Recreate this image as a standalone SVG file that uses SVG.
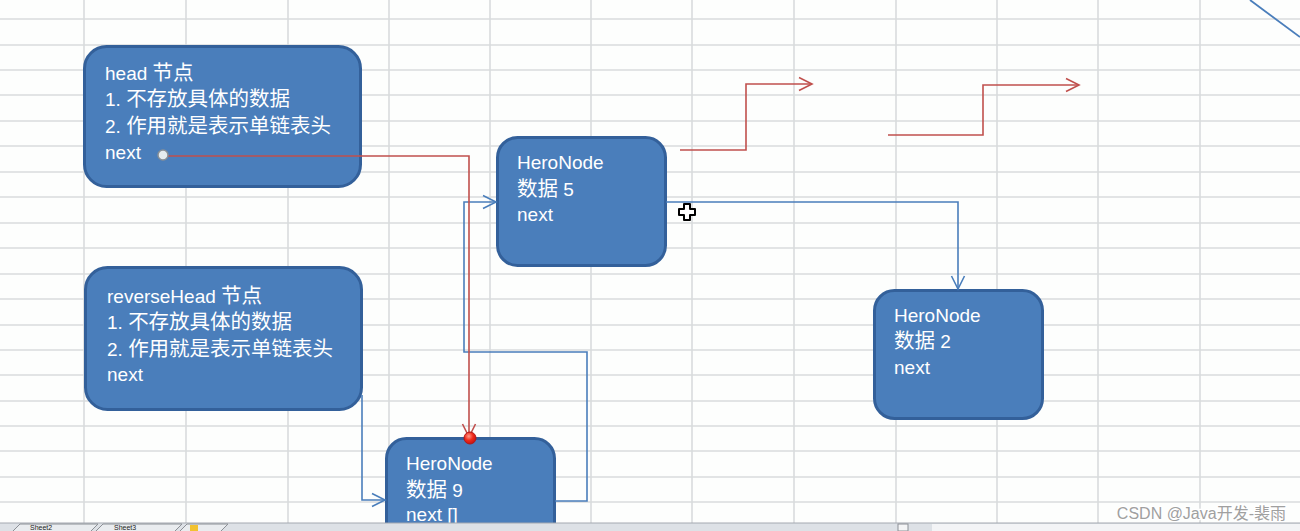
<svg xmlns="http://www.w3.org/2000/svg" width="1300" height="531" viewBox="0 0 1300 531">
<style>
.grid line{stroke:#D9DBDD;stroke-width:1.6}
.box{fill:#4A7EBB;stroke:#33609A;stroke-width:3}
.t{font-family:"Liberation Sans","Noto Sans CJK SC",sans-serif;font-size:19px;fill:#FFFFFF}
.c{font-size:20.5px}
.blue{fill:none;stroke:#4A7EBB;stroke-width:1.6}
.red{fill:none;stroke:#C0504D;stroke-width:1.6}
.tab{fill:#E9ECEF;stroke:#8C9096;stroke-width:1}
.tabt{font-family:"Liberation Sans",sans-serif;font-size:7px;fill:#222}
</style>
<defs>
<marker id="ab" markerUnits="userSpaceOnUse" markerWidth="16" markerHeight="16" refX="14" refY="8" orient="auto">
<path d="M1,1.5 L14,8 L1,14.5" fill="none" stroke="#4A7EBB" stroke-width="1.6"/>
</marker>
<marker id="ar" markerUnits="userSpaceOnUse" markerWidth="16" markerHeight="16" refX="14" refY="8" orient="auto">
<path d="M1,1.5 L14,8 L1,14.5" fill="none" stroke="#C0504D" stroke-width="1.6"/>
</marker>
<radialGradient id="rd" cx="0.4" cy="0.35" r="0.7">
<stop offset="0" stop-color="#FF9A8A"/>
<stop offset="0.5" stop-color="#F02A1A"/>
<stop offset="1" stop-color="#C01010"/>
</radialGradient>
</defs>
<rect width="1300" height="531" fill="#FDFEFD"/>
<g class="grid">
<line x1="84" y1="0" x2="84" y2="531"/>
<line x1="186" y1="0" x2="186" y2="531"/>
<line x1="288" y1="0" x2="288" y2="531"/>
<line x1="389" y1="0" x2="389" y2="531"/>
<line x1="490" y1="0" x2="490" y2="531"/>
<line x1="591" y1="0" x2="591" y2="531"/>
<line x1="692" y1="0" x2="692" y2="531"/>
<line x1="794" y1="0" x2="794" y2="531"/>
<line x1="896" y1="0" x2="896" y2="531"/>
<line x1="997" y1="0" x2="997" y2="531"/>
<line x1="1098" y1="0" x2="1098" y2="531"/>
<line x1="1200" y1="0" x2="1200" y2="531"/>
<line x1="0" y1="19" x2="1300" y2="19"/>
<line x1="0" y1="45" x2="1300" y2="45"/>
<line x1="0" y1="70" x2="1300" y2="70"/>
<line x1="0" y1="95" x2="1300" y2="95"/>
<line x1="0" y1="121" x2="1300" y2="121"/>
<line x1="0" y1="146" x2="1300" y2="146"/>
<line x1="0" y1="172" x2="1300" y2="172"/>
<line x1="0" y1="197" x2="1300" y2="197"/>
<line x1="0" y1="223" x2="1300" y2="223"/>
<line x1="0" y1="248" x2="1300" y2="248"/>
<line x1="0" y1="274" x2="1300" y2="274"/>
<line x1="0" y1="299" x2="1300" y2="299"/>
<line x1="0" y1="325" x2="1300" y2="325"/>
<line x1="0" y1="350" x2="1300" y2="350"/>
<line x1="0" y1="375" x2="1300" y2="375"/>
<line x1="0" y1="401" x2="1300" y2="401"/>
<line x1="0" y1="426" x2="1300" y2="426"/>
<line x1="0" y1="451" x2="1300" y2="451"/>
<line x1="0" y1="477" x2="1300" y2="477"/>
<line x1="0" y1="502" x2="1300" y2="502"/>
</g>
<line x1="1250" y1="0" x2="1300" y2="37" stroke="#4A7EBB" stroke-width="1.8"/>
<g id="head">
<rect class="box" x="84.5" y="46.5" width="276" height="140" rx="22"/>
<text class="t" x="105" y="80">head <tspan class="c">节点</tspan></text>
<text class="t" x="105" y="106">1. <tspan class="c">不存放具体的数据</tspan></text>
<text class="t" x="105" y="133">2. <tspan class="c">作用就是表示单链表头</tspan></text>
<text class="t" x="105" y="159">next</text>
</g>
<g id="hero5">
<rect class="box" x="497.5" y="137.5" width="168" height="128" rx="20"/>
<text class="t" x="517" y="169">HeroNode</text>
<text class="t" x="517" y="196"><tspan class="c">数据</tspan> 5</text>
<text class="t" x="517" y="221">next</text>
</g>
<g id="reverseHead">
<rect class="box" x="85.5" y="267.5" width="276" height="142" rx="22"/>
<text class="t" x="107" y="303">reverseHead <tspan class="c">节点</tspan></text>
<text class="t" x="107" y="329">1. <tspan class="c">不存放具体的数据</tspan></text>
<text class="t" x="107" y="356">2. <tspan class="c">作用就是表示单链表头</tspan></text>
<text class="t" x="107" y="381">next</text>
</g>
<g id="hero2">
<rect class="box" x="874.5" y="290.5" width="168" height="128" rx="20"/>
<text class="t" x="894" y="322">HeroNode</text>
<text class="t" x="894" y="348"><tspan class="c">数据</tspan> 2</text>
<text class="t" x="894" y="374">next</text>
</g>
<g id="hero9">
<rect class="box" x="386.5" y="438.5" width="168" height="128" rx="20"/>
<text class="t" x="406" y="470">HeroNode</text>
<text class="t" x="406" y="497"><tspan class="c">数据</tspan> 9</text>
<text class="t" x="406" y="521">next []</text>
</g>
<g id="connectors">
<path class="blue" d="M666,202 H958 V289" marker-end="url(#ab)"/>
<path class="blue" d="M362,395 V500 H385" marker-end="url(#ab)"/>
<path class="blue" d="M555,501 H587 V352 H464 V202 H496" marker-end="url(#ab)"/>
<path class="red" d="M680,150 H746 V84 H812" marker-end="url(#ar)"/>
<path class="red" d="M888,135 H983 V85 H1079" marker-end="url(#ar)"/>
<path class="red" d="M168,156 H469 V437" marker-end="url(#ar)"/>
<circle cx="163" cy="155" r="5" fill="#E6ECEE" stroke="#8A9096" stroke-width="1.5"/>
<circle cx="470" cy="438" r="6" fill="url(#rd)" stroke="#B01818" stroke-width="1"/>
</g>
<path d="M684,204 h6 v5 h5 v6 h-5 v5 h-6 v-5 h-5 v-6 h5 z" fill="#FFFFFF" stroke="#000000" stroke-width="2" stroke-linejoin="round"/>
<text x="1286" y="519" text-anchor="end" font-family="Liberation Sans,'Noto Sans CJK SC',sans-serif" font-size="16" fill="#A0A0A0" stroke="#FFFFFF" stroke-width="2.5" paint-order="stroke">CSDN @Java开发-裴雨</text>
<g id="tabbar">
<rect x="0" y="523" width="1300" height="8" fill="#DDE1E6"/>
<line x1="0" y1="523" x2="1300" y2="523" stroke="#A4A9B0" stroke-width="1"/>
<path class="tab" d="M13,531 L20,524 H98 L91,531"/>
<path class="tab" d="M96,531 L103,524 H182 L175,531"/>
<path class="tab" d="M180,531 L187,524 H228 L221,531"/>
<text class="tabt" x="30" y="530">Sheet2</text>
<text class="tabt" x="114" y="530">Sheet3</text>
<rect x="190" y="525" width="8" height="6" fill="#F2C230"/>
<rect x="898" y="524" width="10" height="7" fill="#F4F5F6" stroke="#8C9096" stroke-width="1"/>
<rect x="932" y="524" width="368" height="7" fill="#F3F4F6"/>
</g>
</svg>
